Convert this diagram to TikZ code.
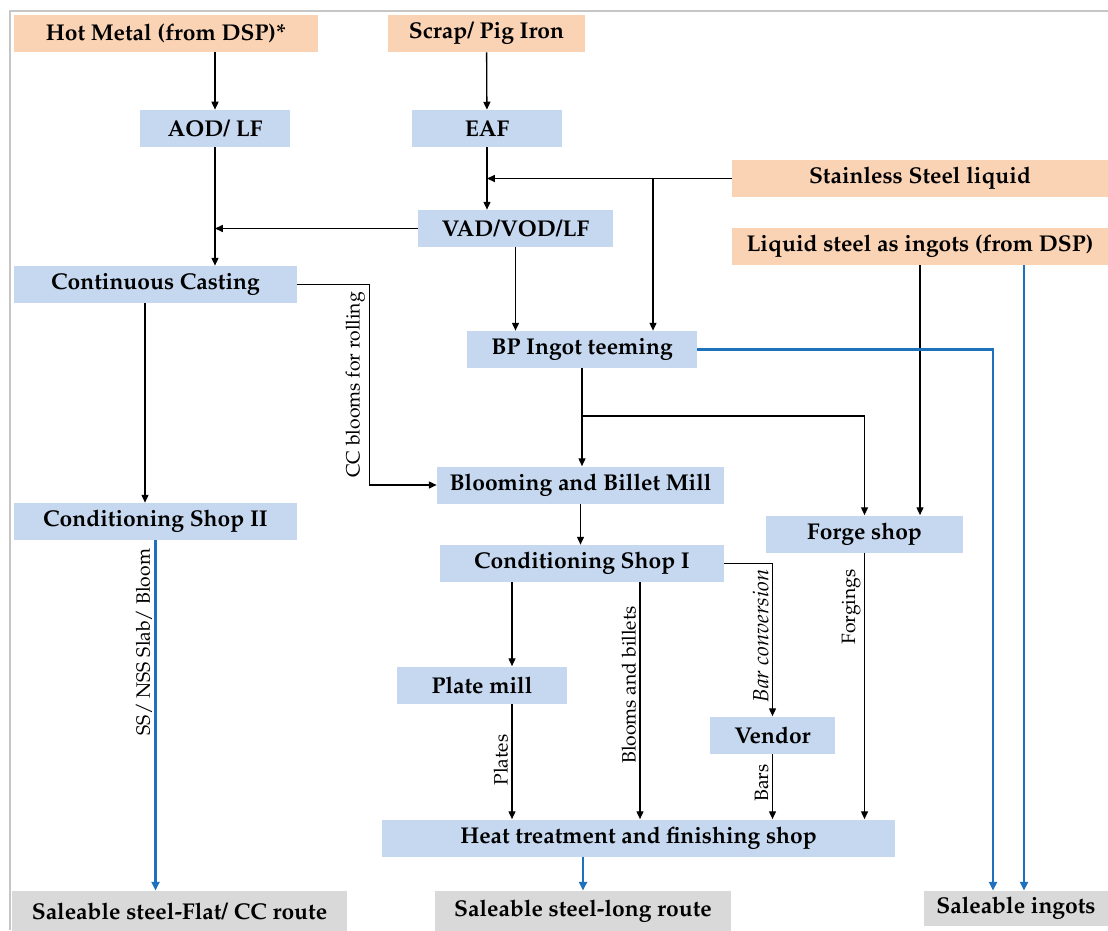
\documentclass[tikz,border=0pt]{standalone}
\usepackage[T1]{fontenc}
\usepackage{mathpazo}
\usepackage{xcolor}
\usepackage{tikz}
\usetikzlibrary{arrows.meta}
\usetikzlibrary{calc}
\definecolor{peach}{RGB}{250,211,181}
\definecolor{paleblue}{RGB}{198,216,240}
\definecolor{palegray}{RGB}{217,217,217}
\definecolor{flowblue}{RGB}{30,114,189}
\begin{document}
\begin{tikzpicture}[x=0.02cm,y=-0.02cm,
    box/.style={inner sep=0pt,minimum height=0.74cm,font=\fontsize{13}{15}\selectfont\bfseries},
    src/.style={box,fill=peach},
    proc/.style={box,fill=paleblue},
    sale/.style={box,fill=palegray,minimum height=0.8cm},
    lbl/.style={font=\fontsize{11}{13}\selectfont,inner sep=2pt,rotate=90,anchor=south},
    arr/.style={line width=0.75pt,-{Triangle[length=4.5pt,width=4pt]}},
    barr/.style={line width=1.3pt,flowblue,-{Triangle[length=5pt,width=4.5pt]}}]
            \useasboundingbox (0,0) rectangle (1108,930);
            \draw[gray!45,line width=0.8pt] (10,930) -- (10,11) -- (1108,11);
            % sources
            \node[src,minimum width=6.08cm] (HM) at (166,33.5) {Hot Metal (from DSP)*};
            \node[src,minimum width=3.94cm] (SPI) at (486.5,33.5) {Scrap/ Pig Iron};
            \node[src,minimum width=7.52cm] (SSL) at (920,178.5) {Stainless Steel liquid};
            \node[src,minimum width=7.52cm] (LSI) at (920,246.5) {Liquid steel as ingots (from DSP)};
            % process steps
            \node[proc,minimum width=3.02cm] (AOD) at (215,128.5) {AOD/ LF};
            \node[proc,minimum width=3.0cm] (EAF) at (487,128.5) {EAF};
            \node[proc,minimum width=3.9cm] (VAD) at (515.5,228.5) {VAD/VOD/LF};
            \node[proc,minimum width=5.66cm] (CC) at (155.5,284.5) {Continuous Casting};
            \node[proc,minimum width=4.6cm] (BPI) at (582,349.5) {BP Ingot teeming};
            \node[proc,minimum width=5.74cm] (BBM) at (580.5,485) {Blooming and Billet Mill};
            \node[proc,minimum width=5.66cm] (CS2) at (155.5,521.5) {Conditioning Shop II};
            \node[proc,minimum width=3.94cm] (FS) at (864.5,534) {Forge shop};
            \node[proc,minimum width=5.68cm] (CS1) at (582,563.5) {Conditioning Shop I};
            \node[proc,minimum width=3.4cm] (PM) at (482,685) {Plate mill};
            \node[proc,minimum width=2.5cm] (VEN) at (772.5,735) {Vendor};
            \node[proc,minimum width=10.26cm] (HT) at (638.5,838) {Heat treatment and finishing shop};
            % products
            \node[sale,minimum width=6.7cm] (SF) at (179.5,911) {Saleable steel-Flat/ CC route};
            \node[sale,minimum width=5.92cm] (SL) at (583,911) {Saleable steel-long route};
            \node[sale,minimum width=3.68cm,minimum height=0.7cm] (SI) at (1016,908.5) {Saleable ingots};
            % melting
            \draw[arr] (AOD.north |- HM.south) -- (AOD.north);
            \draw[arr] (SPI) -- (EAF);
            \draw[arr] (EAF.south) -- (EAF.south |- VAD.north);
            \draw[arr] (AOD.south) -- (AOD.south |- CC.north);
            \draw[arr] (VAD.west) -- (VAD.west -| AOD.south);
            \coordinate (SJ) at (653,178.5);
            \draw[arr] (SSL.west) -- (SSL.west -| EAF.south);
            \draw[arr] (SJ) -- (SJ |- BPI.north);
            \draw[arr] (VAD.south) -- (VAD.south |- BPI.north);
            % casting and rolling
            \draw[arr] (CC.east) -- ++(72,0) |- (BBM.west);
            \node[lbl] (LCC) at (369,385) {CC blooms for rolling};
            \draw[arr] (145,0 |- CC.south) -- (145,0 |- CS2.north);
            \draw[barr] (CS2.south) -- (CS2.south |- SF.north);
            \node[lbl] (LSS) at (156,642) {SS/ NSS Slab/ Bloom};
            \draw[arr] (BPI.south) -- (BPI.south |- BBM.north);
            \coordinate (BJ) at (582,416);
            \draw[arr] (BJ) -| (FS.north);
            \draw[arr] (LSI.south) -- (LSI.south |- FS.north);
            \draw[barr] (BPI.east) -| (993,0 |- SI.north);
            \draw[barr] (1024,0 |- LSI.south) -- (1024,0 |- SI.north);
            \draw[arr] (BBM.south) -- (BBM.south |- CS1.north);
            % finishing
            \draw[arr] (512,0 |- CS1.south) -- (512,0 |- PM.north);
            \draw[arr] (640,0 |- CS1.south) -- (640,0 |- HT.north);
            \node[lbl] (LBB) at (640,685) {Blooms and billets};
            \draw[arr] (CS1.east) -| (VEN.north);
            \node[lbl,font=\fontsize{12.5}{14}\selectfont\itshape] (LBC) at (772.5,636) {Bar conversion};
            \draw[arr] (512,0 |- PM.south) -- (512,0 |- HT.north);
            \node[lbl] (LPL) at (512,760) {Plates};
            \draw[arr] (VEN.south) -- (VEN.south |- HT.north);
            \node[lbl] (LBA) at (772.5,783) {Bars};
            \draw[arr] (FS.south) -- (FS.south |- HT.north);
            \node[lbl] (LFO) at (864.5,607) {Forgings};
            \draw[barr] (SL.north |- HT.south) -- (SL.north);
        \end{tikzpicture}
\end{document}
